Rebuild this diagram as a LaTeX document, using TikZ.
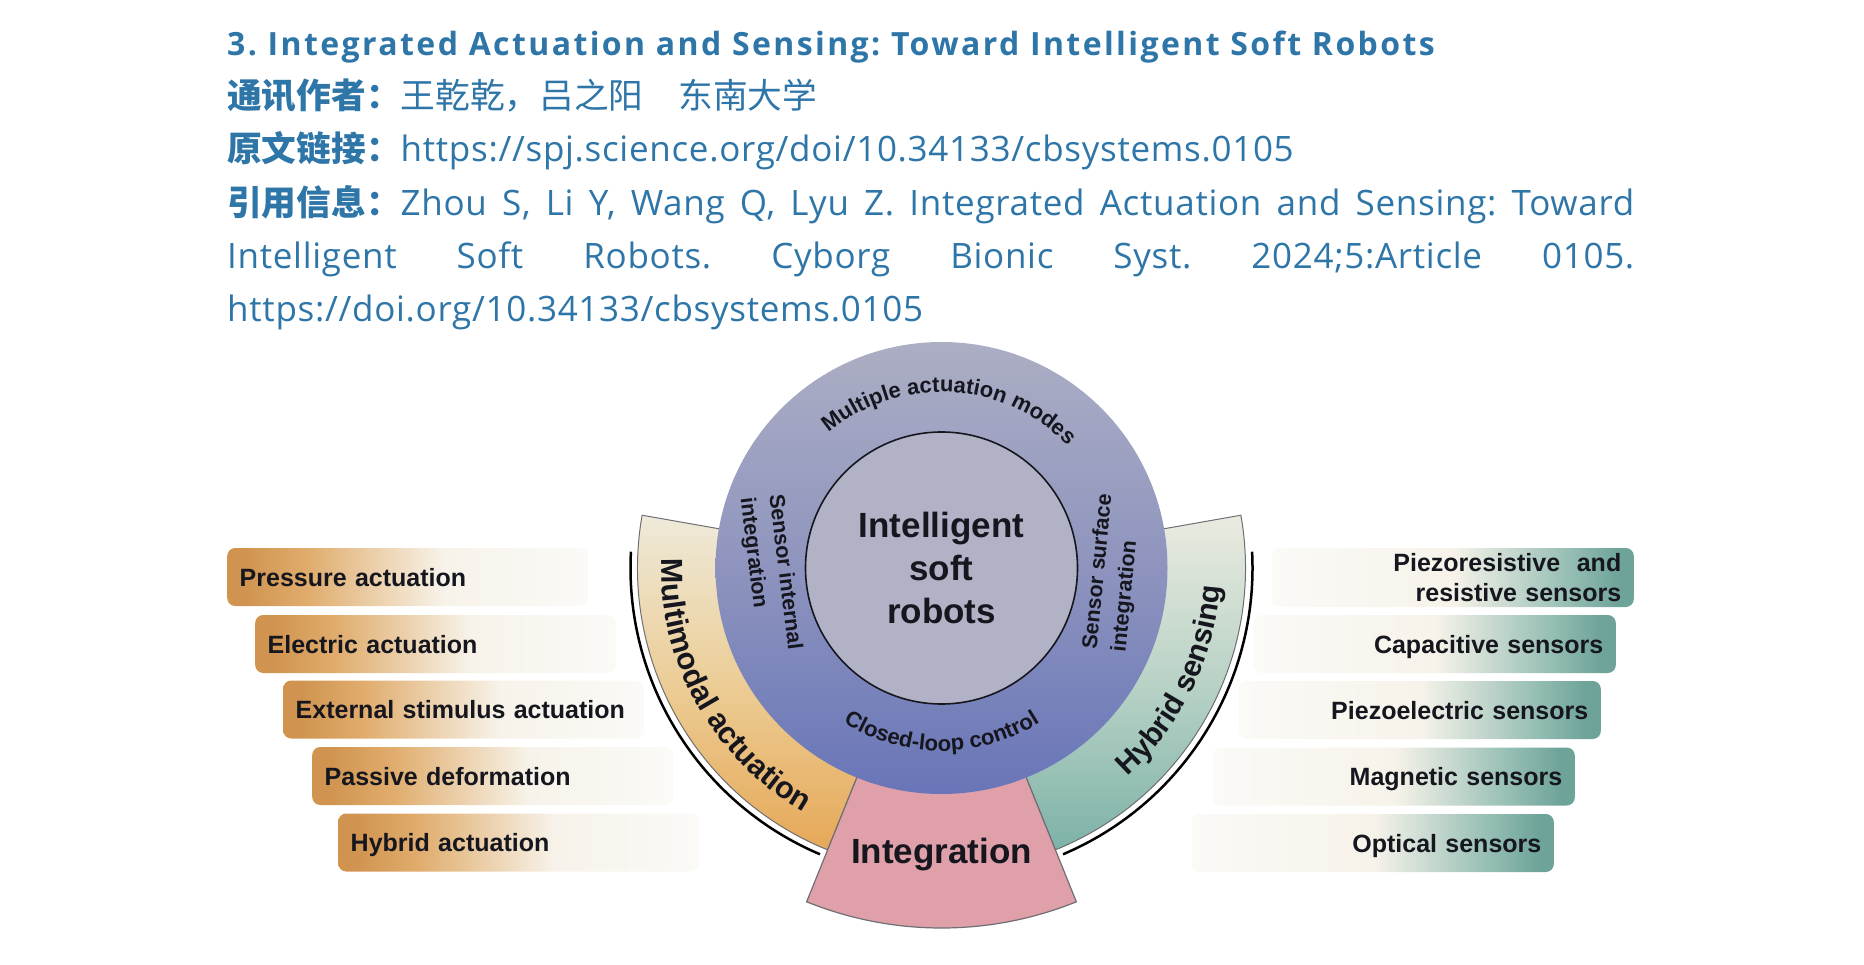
\documentclass[tikz,border=0pt]{standalone}
\usepackage{fontspec}
\setmainfont{Liberation Sans}
\newfontfamily\latinfont{Open Sans}[LetterSpace=2]
\newfontfamily\titlefont{Open Sans}[LetterSpace=7.5]
\newfontfamily\cjkfont{Noto Sans CJK SC}
\usetikzlibrary{decorations.text}
\definecolor{hdblue}{RGB}{46,117,168}
\definecolor{inkc}{RGB}{22,22,30}
\definecolor{actdeep}{RGB}{208,148,80}
\definecolor{actmid}{RGB}{224,172,108}
\definecolor{creamA}{RGB}{247,243,234}
\definecolor{creamB}{RGB}{251,250,247}
\definecolor{sendeep}{RGB}{110,163,153}
\definecolor{senmid}{RGB}{150,190,180}
\definecolor{ringtop}{RGB}{172,174,196}
\definecolor{ringmid}{RGB}{142,148,190}
\definecolor{ringbot}{RGB}{104,117,184}
\definecolor{corefill}{RGB}{178,178,199}
\definecolor{bandcream}{RGB}{238,234,218}
\definecolor{bandorangemid}{RGB}{236,205,150}
\definecolor{bandorange}{RGB}{230,168,88}
\definecolor{bandcreamB}{RGB}{234,235,224}
\definecolor{bandtealmid}{RGB}{185,210,198}
\definecolor{bandteal}{RGB}{125,178,168}
\definecolor{integpink}{RGB}{224,160,170}
\definecolor{edgegrey}{RGB}{110,110,115}
\pgfdeclarehorizontalshading{actshade}{100bp}{color(0bp)=(actdeep); color(25bp)=(actdeep); color(27.5bp)=(actdeep); color(36bp)=(actmid); color(55bp)=(creamA); color(75bp)=(creamB); color(100bp)=(creamB)}
\pgfdeclarehorizontalshading{senshade}{100bp}{color(0bp)=(creamB); color(25bp)=(creamB); color(50bp)=(creamA); color(66bp)=(senmid); color(73bp)=(sendeep); color(100bp)=(sendeep)}
\tikzset{
  hdline/.style={anchor=base west, inner sep=0pt, text=hdblue},
  boxbase/.style={rounded corners=8pt, minimum height=58pt, inner xsep=12.5pt, inner ysep=0pt,
    font=\bfseries\fontsize{25}{30}\selectfont, text=inkc},
  actbox/.style={boxbase, shade, shading=actshade, align=left, anchor=west, text width=336pt, text height=19pt, text depth=1pt},
  senbox/.style={boxbase, shade, shading=senshade, align=right, anchor=east, text width=337pt},
  senone/.style={senbox, text height=19pt, text depth=1pt},
  bandedge/.style={draw=edgegrey, line width=1pt},
  outerarc/.style={draw=black, line width=2.5pt},
  ringlabel/.style={rotate=#1, align=left, inner sep=0pt, text=inkc, font=\bfseries\fontsize{21.5}{29}\selectfont}
}
\frenchspacing
\begin{document}
\begin{tikzpicture}[x=1pt,y=-1pt]
\useasboundingbox (0,0) rectangle (1864,965);
% ---------- header text ----------
\node[hdline, font=\titlefont\bfseries\fontsize{32}{38}\selectfont] (title) at (227,56)
  {3. Integrated Actuation and Sensing: Toward Intelligent Soft Robots};
\node[hdline] (author) at (227,109)
  {{\cjkfont\bfseries\fontsize{34.7}{40}\selectfont 通讯作者：}{\cjkfont\fontsize{34.7}{40}\selectfont 王乾乾，吕之阳　东南大学}};
\node[hdline] (link) at (227,162)
  {{\cjkfont\bfseries\fontsize{34.7}{40}\selectfont 原文链接：}{\latinfont\fontsize{35}{40}\selectfont https://spj.science.org/doi/10.34133/cbsystems.0105}};
\node[hdline] (cite1) at (227,216)
  {\makebox[1407pt][s]{{\cjkfont\bfseries\fontsize{34.7}{40}\selectfont 引用信息：}{\latinfont\fontsize{35}{40}\selectfont Zhou S, Li Y, Wang Q, Lyu Z. Integrated Actuation and Sensing: Toward}}};
\node[hdline] (cite2) at (227,269)
  {\makebox[1407pt][s]{\latinfont\fontsize{35}{40}\selectfont Intelligent Soft Robots. Cyborg Bionic Syst. 2024;5:Article 0105.}};
\node[hdline] (cite3) at (227,322)
  {\latinfont\fontsize{35}{40}\selectfont https://doi.org/10.34133/cbsystems.0105};
% ---------- central diagram ----------
\begin{scope}[shift={(941.5,568)}]
  \shadedraw[bandedge, top color=bandcream, bottom color=bandorange, middle color=bandorangemid]
    (170:304pt) arc[start angle=170, end angle=248, radius=304pt]
    -- (248:200pt) arc[start angle=248, end angle=170, radius=200pt] -- cycle;
  \shadedraw[bandedge, top color=bandcreamB, bottom color=bandteal, middle color=bandtealmid]
    (-68:304pt) arc[start angle=-68, end angle=10, radius=304pt]
    -- (10:200pt) arc[start angle=10, end angle=-68, radius=200pt] -- cycle;
  \filldraw[fill=integpink, draw=edgegrey, line width=1.2pt]
    (248:200pt) -- (248:360pt) arc[start angle=248, end angle=292, radius=360pt]
    -- (292:200pt) -- cycle;
  \shade[top color=ringtop, bottom color=ringbot, middle color=ringmid] (0,0) circle[radius=226pt];
  \node[circle, draw=inkc, line width=1.6pt, fill=corefill, minimum size=272pt, inner sep=0pt,
        align=center, text=inkc, font=\bfseries\fontsize{35}{43}\selectfont] (core) at (0,0)
        {Intelligent\\soft\\robots};
  \path[decorate, decoration={text along path, text align=center, text color=inkc,
        text={|\bfseries\fontsize{22}{26}\selectfont|Multiple actuation modes}}]
    (142:176pt) arc[start angle=142, end angle=32, radius=176pt];
  \path[decorate, decoration={text along path, text align=center, text color=inkc,
        text={|\bfseries\fontsize{22}{26}\selectfont|Closed-loop control}}]
    (225:183pt) arc[start angle=225, end angle=315, radius=183pt];
  \path[decorate, decoration={text along path, text align=center, text color=inkc,
        text={|\bfseries\fontsize{30.5}{35}\selectfont|Multimodal actuation}}]
    (169.3:280pt) arc[start angle=169.3, end angle=249.3, radius=280pt];
  \path[decorate, decoration={text along path, text align=center, text color=inkc,
        text={|\bfseries\fontsize{30}{35}\selectfont|Hybrid sensing}}]
    (-70:279pt) arc[start angle=-70, end angle=18, radius=279pt];
  \draw[outerarc] (177:311pt) arc[start angle=177, end angle=247, radius=311pt];
  \draw[outerarc] (-67:311pt) arc[start angle=-67, end angle=3, radius=311pt];
\end{scope}
\node[ringlabel=-83] (sii) at (770,574) {Sensor internal\\integration};
\node[ringlabel=84.5] (ssi) at (1113,573) {Sensor surface\\integration};
\node[anchor=base, inner sep=0pt, text=inkc, font=\bfseries\fontsize{35}{42}\selectfont] (integ) at (941.5,863) {Integration};
% ---------- actuation boxes ----------
\node[actbox] (pa) at (227,577) {Pressure actuation};
\node[actbox] (ea) at (255,644) {Electric actuation};
\node[actbox] (xa) at (283,709.5) {External stimulus actuation};
\node[actbox] (pd) at (312,776) {Passive deformation};
\node[actbox] (ha) at (338,842.5) {Hybrid actuation};
% ---------- sensing boxes ----------
\node[senbox, minimum height=59pt] (prs) at (1634,577.5) {Piezoresistive\ \ and\\resistive sensors};
\node[senone] (cs) at (1616,644) {Capacitive sensors};
\node[senone] (pes) at (1601,710) {Piezoelectric sensors};
\node[senone] (ms) at (1575,776.5) {Magnetic sensors};
\node[senone] (os) at (1554,843) {Optical sensors};
\end{tikzpicture}
\end{document}
